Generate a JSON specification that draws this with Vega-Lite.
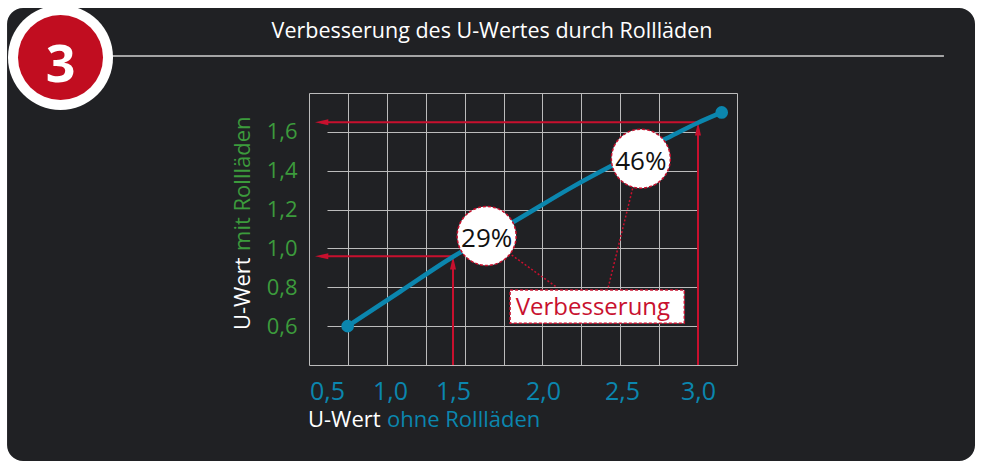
{
  "$schema": "https://vega.github.io/schema/vega-lite/v6.json",
  "width": 428,
  "height": 272,
  "autosize": {"type": "none"},
  "padding": {"left": 309, "top": 93, "right": 244, "bottom": 100},
  "background": "#202124",
  "title": {"text": "Verbesserung des U-Wertes durch Rollläden", "color": "#ffffff", "fontSize": 21.5, "font": "Open Sans", "fontWeight": "normal", "anchor": "middle", "dx": -31, "offset": 0, "dy": 74},
  "config": {"font": "Open Sans", "view": {"stroke": "#bcbcbc", "strokeWidth": 1}},
  "datasets": {
    "curve": [
      {"x": 0.664, "y": 0.60}, {"x": 1.079, "y": 0.777}, {"x": 1.5, "y": 0.957},
      {"x": 1.854, "y": 1.146}, {"x": 2.19, "y": 1.318}, {"x": 2.443, "y": 1.429},
      {"x": 2.794, "y": 1.567}, {"x": 3.0, "y": 1.647}, {"x": 3.156, "y": 1.70}
    ],
    "arrows": [
      {"dir": "up", "x": 1.5, "y": 0.4, "xt": 1.5, "yt": 0.96},
      {"dir": "left", "x": 1.5, "y": 0.96, "xt": 0.405, "yt": 0.96},
      {"dir": "up", "x": 3.0, "y": 0.4, "xt": 3.0, "yt": 1.65},
      {"dir": "left", "x": 3.0, "y": 1.65, "xt": 0.405, "yt": 1.65}
    ],
    "leaders": [
      {"x": 1.826, "y": 0.966, "x2": 2.087, "y2": 0.80},
      {"x": 2.570, "y": 1.309, "x2": 2.413, "y2": 0.80}
    ],
    "bubbles": [
      {"x": 1.687, "y": 1.064, "label": "29%"},
      {"x": 2.624, "y": 1.462, "label": "46%"}
    ],
    "callout": [
      {"label": "Verbesserung", "x": 1.817, "x2": 2.91, "y": 0.615, "y2": 0.786, "tx": 2.316, "ty": 0.657}
    ],
    "ytitle": [
      {"text": "U-Wert", "x": -0.111, "y": 0.580},
      {"text": "mit Rollläden", "x": -0.111, "y": 0.987}
    ],
    "xtitle": [
      {"text": "U-Wert", "x": 0.349, "y": 0.079},
      {"text": "ohne Rollläden", "x": 0.976, "y": 0.079}
    ]
  },
  "data": {"values": [{"badge": "3"}]},
  "resolve": {"axis": {"x": "independent", "y": "independent"}},
  "layer": [
    {
      "data": {"name": "arrows"},
      "transform": [{"filter": "datum.dir === 'up'"}],
      "mark": {"type": "rule", "color": "#c8102e", "strokeWidth": 2, "y2Offset": 6},
      "encoding": {
        "x": {"field": "x", "type": "quantitative",
              "scale": {"type": "linear", "domain": [0.5, 1, 1.5, 2, 2.5, 3], "range": [18, 81, 144, 234, 313, 389], "nice": false, "zero": false},
              "axis": {"orient": "top", "values": [0.666, 0.975, 1.283, 1.564, 1.781, 1.997, 2.243, 2.489, 2.745, 3.001], "labels": false, "ticks": false, "domain": false, "grid": true, "gridColor": "#bcbcbc", "gridWidth": 1, "gridOpacity": 1, "title": null}},
        "y": {"field": "y", "type": "quantitative",
              "scale": {"domain": [0.4, 1.8], "nice": false, "zero": false},
              "axis": {"values": [0.6, 0.8, 1.0, 1.2, 1.4, 1.6], "labelExpr": "replace(format(datum.value, '.1f'), '.', ',')", "labelColor": "#3c9b3c", "labelFontSize": 22, "labelFont": "Open Sans", "ticks": false, "domain": false, "grid": true, "gridColor": "#bcbcbc", "gridWidth": 1, "gridOpacity": 1, "labelPadding": 12, "labelOverlap": false, "title": null}},
        "y2": {"field": "yt"}
      }
    },
    {
      "data": {"name": "arrows"},
      "transform": [{"filter": "datum.dir === 'left'"}],
      "mark": {"type": "rule", "color": "#c8102e", "strokeWidth": 2, "x2Offset": 6},
      "encoding": {
        "x": {"field": "x", "type": "quantitative", "axis": null},
        "x2": {"field": "xt"},
        "y": {"field": "y", "type": "quantitative", "axis": null}
      }
    },
    {
      "data": {"name": "arrows"},
      "transform": [{"filter": "datum.dir === 'up'"}],
      "mark": {"type": "point", "shape": "M0,-1L0.45,1L-0.45,1Z", "filled": true, "color": "#c8102e", "opacity": 1, "size": 177, "yOffset": 6.65},
      "encoding": {
        "x": {"field": "xt", "type": "quantitative", "axis": null},
        "y": {"field": "yt", "type": "quantitative", "axis": null}
      }
    },
    {
      "data": {"name": "arrows"},
      "transform": [{"filter": "datum.dir === 'left'"}],
      "mark": {"type": "point", "shape": "M-1,0L1,-0.45L1,0.45Z", "filled": true, "color": "#c8102e", "opacity": 1, "size": 177, "xOffset": 6.65},
      "encoding": {
        "x": {"field": "xt", "type": "quantitative", "axis": null},
        "y": {"field": "yt", "type": "quantitative", "axis": null}
      }
    },
    {
      "data": {"name": "curve"},
      "mark": {"type": "line", "color": "#0b86ae", "strokeWidth": 4.5, "interpolate": "monotone", "strokeCap": "round"},
      "encoding": {
        "x": {"field": "x", "type": "quantitative",
              "axis": {"values": [0.5, 1, 1.5, 2, 2.5, 3], "labelExpr": "replace(format(datum.value, '.1f'), '.', ',')", "labelColor": "#0b86ae", "labelFontSize": 25, "labelFont": "Open Sans", "grid": false, "ticks": false, "domain": false, "labelPadding": 14, "labelFlush": false, "labelOverlap": false, "title": null}},
        "y": {"field": "y", "type": "quantitative", "axis": null}
      }
    },
    {
      "data": {"name": "curve"},
      "transform": [{"filter": "datum.x < 0.7 || datum.x > 3.1"}],
      "mark": {"type": "point", "filled": true, "color": "#0b86ae", "opacity": 1, "size": 160},
      "encoding": {
        "x": {"field": "x", "type": "quantitative", "axis": null},
        "y": {"field": "y", "type": "quantitative", "axis": null}
      }
    },
    {
      "data": {"name": "leaders"},
      "mark": {"type": "rule", "color": "#c8102e", "strokeWidth": 1.5, "strokeDash": [2, 2]},
      "encoding": {
        "x": {"field": "x", "type": "quantitative", "axis": null},
        "x2": {"field": "x2"},
        "y": {"field": "y", "type": "quantitative", "axis": null},
        "y2": {"field": "y2"}
      }
    },
    {
      "data": {"name": "bubbles"},
      "mark": {"type": "point", "shape": "circle", "filled": true, "fill": "#ffffff", "stroke": "#c8102e", "strokeWidth": 1.5, "strokeDash": [3, 2], "opacity": 1, "size": 3480},
      "encoding": {
        "x": {"field": "x", "type": "quantitative", "axis": null},
        "y": {"field": "y", "type": "quantitative", "axis": null}
      }
    },
    {
      "data": {"name": "bubbles"},
      "mark": {"type": "text", "fontSize": 26, "color": "#111111", "align": "center", "baseline": "middle", "dy": 3},
      "encoding": {
        "x": {"field": "x", "type": "quantitative", "axis": null},
        "y": {"field": "y", "type": "quantitative", "axis": null},
        "text": {"field": "label"}
      }
    },
    {
      "data": {"name": "callout"},
      "mark": {"type": "rect", "fill": "#ffffff", "stroke": "#c8102e", "strokeWidth": 1.5, "strokeDash": [3, 2]},
      "encoding": {
        "x": {"field": "x", "type": "quantitative", "axis": null},
        "x2": {"field": "x2"},
        "y": {"field": "y", "type": "quantitative", "axis": null},
        "y2": {"field": "y2"}
      }
    },
    {
      "data": {"name": "callout"},
      "mark": {"type": "text", "fontSize": 24, "color": "#c8102e", "align": "center", "baseline": "alphabetic"},
      "encoding": {
        "x": {"field": "tx", "type": "quantitative", "axis": null},
        "y": {"field": "ty", "type": "quantitative", "axis": null},
        "text": {"field": "label"}
      }
    },
    {
      "data": {"name": "ytitle"},
      "mark": {"type": "text", "fontSize": 22, "angle": 270, "align": "left", "baseline": "alphabetic"},
      "encoding": {
        "x": {"field": "x", "type": "quantitative", "axis": null},
        "y": {"field": "y", "type": "quantitative", "axis": null},
        "text": {"field": "text"},
        "color": {"field": "text", "type": "nominal", "scale": {"domain": ["U-Wert", "mit Rollläden", "ohne Rollläden"], "range": ["#ffffff", "#3c9b3c", "#0b86ae"]}, "legend": null}
      }
    },
    {
      "data": {"name": "xtitle"},
      "mark": {"type": "text", "fontSize": 22, "align": "left", "baseline": "alphabetic"},
      "encoding": {
        "x": {"field": "x", "type": "quantitative", "axis": null},
        "y": {"field": "y", "type": "quantitative", "axis": null},
        "text": {"field": "text"},
        "color": {"field": "text", "type": "nominal", "legend": null}
      }
    },
    {
      "mark": {"type": "rect", "fill": "#ffffff", "fillOpacity": 0, "stroke": "#ffffff", "strokeWidth": 40, "cornerRadius": 36},
      "encoding": {
        "x": {"datum": -2.198, "type": "quantitative", "axis": null},
        "x2": {"datum": 4.954},
        "y": {"datum": 2.340, "type": "quantitative", "axis": null},
        "y2": {"datum": -0.197}
      }
    },
    {
      "mark": {"type": "rule", "color": "#d0d0d0", "strokeWidth": 1.5},
      "encoding": {
        "x": {"datum": -1.302, "type": "quantitative", "axis": null},
        "x2": {"datum": 4.618},
        "y": {"datum": 1.99, "type": "quantitative", "axis": null}
      }
    },
    {
      "mark": {"type": "point", "shape": "circle", "filled": true, "color": "#ffffff", "opacity": 1, "size": 11025},
      "encoding": {
        "x": {"datum": -1.615, "type": "quantitative", "axis": null},
        "y": {"datum": 1.983, "type": "quantitative", "axis": null}
      }
    },
    {
      "mark": {"type": "point", "shape": "circle", "filled": true, "color": "#c10d20", "opacity": 1, "size": 7225},
      "encoding": {
        "x": {"datum": -1.615, "type": "quantitative", "axis": null},
        "y": {"datum": 1.983, "type": "quantitative", "axis": null}
      }
    },
    {
      "mark": {"type": "text", "fontSize": 52, "fontWeight": "bold", "color": "#ffffff", "align": "center", "baseline": "alphabetic"},
      "encoding": {
        "x": {"datum": -1.615, "type": "quantitative", "axis": null},
        "y": {"datum": 1.857, "type": "quantitative", "axis": null},
        "text": {"field": "badge"}
      }
    }
  ]
}
